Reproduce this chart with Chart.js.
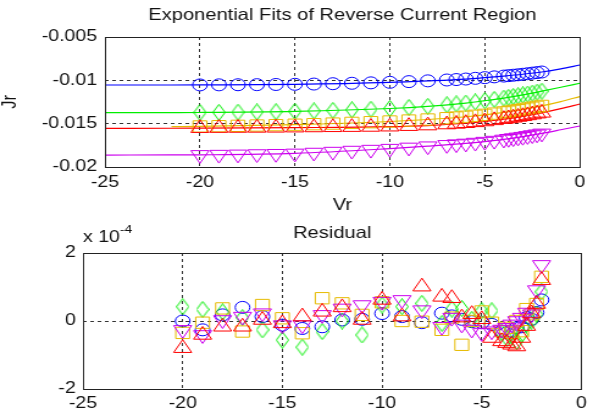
<!DOCTYPE html>
<html>
<head>
<meta charset="utf-8">
<script src="https://cdn.jsdelivr.net/npm/chart.js@4"></script>
<style>
  html, body { margin: 0; padding: 0; background: #fff; }
  #wrap { position: relative; width: 593px; height: 416px; overflow: hidden; }
  canvas { position: absolute; left: 0; top: 0; }
</style>
</head>
<body>
<div id="wrap">
  <canvas id="fitChart" width="486" height="416" style="width:593px;height:416px"></canvas>
  <canvas id="resChart" width="486" height="416" style="width:593px;height:416px"></canvas>
</div>
<script>
// reverse bias voltages of the measured points
const vr = [-20, -19, -18, -17, -16, -15, -14, -13, -12, -11, -10, -9, -8, -7, -6.5, -6, -5.5, -5, -4.5, -4, -3.75, -3.5, -3.25, -3, -2.75, -2.5, -2.25, -2];

// measured Jr
const jrBlue = [-0.01053, -0.01052, -0.01051, -0.01050, -0.01048, -0.01046, -0.01043, -0.01039, -0.01034, -0.01029, -0.01023, -0.01015, -0.01006, -0.00996, -0.00991, -0.00985, -0.00977, -0.00969, -0.00960, -0.00951, -0.00946, -0.00941, -0.00936, -0.00930, -0.00924, -0.00917, -0.00911, -0.00904];
const jrGreen = [-0.01371, -0.01369, -0.01367, -0.01365, -0.01362, -0.01358, -0.01353, -0.01347, -0.01340, -0.01333, -0.01325, -0.01313, -0.01300, -0.01282, -0.01272, -0.01262, -0.01249, -0.01235, -0.01220, -0.01205, -0.01196, -0.01187, -0.01178, -0.01168, -0.01158, -0.01147, -0.01136, -0.01125];
const jrYellow = [-0.01532, -0.01529, -0.01525, -0.01521, -0.01517, -0.01512, -0.01506, -0.01499, -0.01491, -0.01483, -0.01475, -0.01464, -0.01452, -0.01437, -0.01429, -0.01420, -0.01409, -0.01398, -0.01384, -0.01370, -0.01362, -0.01353, -0.01345, -0.01336, -0.01326, -0.01316, -0.01306, -0.01295];
const jrRed = [-0.01552, -0.01551, -0.01550, -0.01549, -0.01548, -0.01546, -0.01544, -0.01542, -0.01540, -0.01538, -0.01535, -0.01529, -0.01522, -0.01510, -0.01503, -0.01495, -0.01485, -0.01475, -0.01462, -0.01448, -0.01440, -0.01432, -0.01423, -0.01415, -0.01405, -0.01395, -0.01385, -0.01375];
const jrMagenta = [-0.01860, -0.01857, -0.01854, -0.01850, -0.01847, -0.01843, -0.01833, -0.01822, -0.01810, -0.01799, -0.01788, -0.01774, -0.01760, -0.01744, -0.01736, -0.01728, -0.01718, -0.01707, -0.01695, -0.01682, -0.01674, -0.01666, -0.01658, -0.01650, -0.01641, -0.01631, -0.01622, -0.01612];

// exponential fit curves
const fitVr = [-25, -21.5, -20, -15, -10, -8, -6, -5, -4, -3, -2, -1, 0];
const fitBlue = [-0.01054, -0.01054, -0.01053, -0.01046, -0.01023, -0.01006, -0.00985, -0.00969, -0.00951, -0.00930, -0.00904, -0.00868, -0.00823];
const fitGreen = [-0.01373, -0.01372, -0.01371, -0.01358, -0.01325, -0.01300, -0.01262, -0.01235, -0.01205, -0.01168, -0.01125, -0.01080, -0.01034];
const fitYellow = [null, -0.01535, -0.01532, -0.01512, -0.01475, -0.01452, -0.01420, -0.01398, -0.01370, -0.01336, -0.01295, -0.01245, -0.01188];
const fitRed = [-0.01554, -0.01553, -0.01552, -0.01546, -0.01535, -0.01522, -0.01495, -0.01475, -0.01448, -0.01415, -0.01375, -0.01327, -0.01273];
const fitMagenta = [-0.01862, -0.01861, -0.01860, -0.01843, -0.01788, -0.01760, -0.01728, -0.01707, -0.01682, -0.01650, -0.01612, -0.01570, -0.01527];

// residuals, in units of 1e-4
const resBlue = [0.00, -0.26, 0.18, 0.40, 0.13, -0.12, -0.22, -0.17, 0.03, 0.05, 0.22, 0.13, -0.05, 0.23, 0.15, 0.05, -0.02, -0.05, -0.10, -0.30, -0.35, -0.30, -0.20, -0.17, 0.10, 0.05, 0.25, 0.62];
const resGreen = [0.42, 0.34, 0.27, 0.10, -0.26, -0.56, -0.77, -0.31, 0.00, -0.41, 0.47, 0.42, 0.52, -0.07, 0.35, 0.37, 0.05, 0.30, 0.30, -0.35, -0.50, -0.45, -0.60, -0.40, -0.10, 0.00, 0.20, 0.86];
const resYellow = [-0.35, -0.05, 0.37, -0.31, 0.47, 0.08, -0.36, 0.67, 0.52, 0.18, 0.55, 0.00, -0.02, -0.26, 0.10, -0.70, 0.00, 0.28, -0.05, -0.30, -0.20, -0.35, 0.00, -0.30, 0.35, 0.20, 0.50, 1.30];
const resRed = [-0.80, -0.41, -0.17, -0.17, 0.03, -0.07, 0.13, 0.27, 0.40, 0.03, 0.62, 0.13, 1.01, 0.71, 0.67, 0.10, 0.20, 0.05, -0.50, -0.60, -0.65, -0.70, -0.75, -0.50, -0.15, 0.22, 0.50, 1.20];
const resMagenta = [-0.26, -0.41, 0.03, 0.13, 0.23, -0.12, -0.12, 0.18, 0.37, 0.47, 0.57, 0.62, 0.32, -0.17, 0.10, -0.10, -0.25, -0.35, -0.30, -0.25, -0.20, -0.10, 0.00, 0.10, 0.25, 0.20, 0.91, 1.65];

// canvas is drawn narrower and stretched by css, like the original figure
const SX = 593 / 486;
const FONT = "'Liberation Sans', Arial, sans-serif";

Chart.defaults.font.family = FONT;
Chart.defaults.font.size = 16;
Chart.defaults.color = "#111";

function pts(xs, ys) {
  return xs.map((x, i) => ({ x: x, y: ys[i] }));
}

// matlab's diamond is taller than wide, so draw it by hand
function diamond(color) {
  const c = document.createElement("canvas");
  c.width = 11;
  c.height = 17;
  const g = c.getContext("2d");
  g.strokeStyle = color;
  g.lineWidth = 1;
  g.beginPath();
  g.moveTo(5.5, 0.5);
  g.lineTo(10.5, 8.5);
  g.lineTo(5.5, 16.5);
  g.lineTo(0.5, 8.5);
  g.closePath();
  g.stroke();
  return c;
}

const series = [
  { name: "red", color: "#ff0000", style: "triangle", radius: 8.5, rot: 0, jr: jrRed, fit: fitRed, res: resRed },
  { name: "magenta", color: "#cc00ee", style: "triangle", radius: 8.5, rot: 180, jr: jrMagenta, fit: fitMagenta, res: resMagenta },
  { name: "yellow", color: "#e6bb00", style: "rect", radius: 8, rot: 0, jr: jrYellow, fit: fitYellow, res: resYellow },
  { name: "green", color: "#00ee00", style: diamond("#00ee00"), radius: 8, rot: 0, jr: jrGreen, fit: fitGreen, res: resGreen },
  { name: "blue", color: "#0000ff", style: "circle", radius: 6, rot: 0, jr: jrBlue, fit: fitBlue, res: resBlue },
];

function markerSet(s, data, order) {
  return {
    type: "scatter",
    label: s.name,
    data: data,
    order: order,
    showLine: false,
    pointStyle: s.style,
    pointRadius: s.radius,
    pointRotation: s.rot,
    pointBorderColor: s.color,
    pointBackgroundColor: "rgba(0,0,0,0)",
    pointBorderWidth: 1,
    pointHoverRadius: s.radius,
  };
}

// box round the axes, and the title centred over the axes
const frame = {
  id: "frame",
  afterDraw(chart, args, opts) {
    const a = chart.chartArea;
    const ctx = chart.ctx;
    ctx.save();
    ctx.strokeStyle = "#222";
    ctx.lineWidth = 1;
    ctx.strokeRect(Math.round(a.left) + 0.5, Math.round(a.top) + 0.5, Math.round(a.right - a.left), Math.round(a.bottom - a.top));
    if (opts.text) {
      ctx.fillStyle = "#111";
      ctx.font = "16.5px " + FONT;
      ctx.textAlign = "center";
      ctx.textBaseline = "middle";
      ctx.fillText(opts.text, (a.left + a.right) / 2, opts.y);
    }
    ctx.restore();
  }
};

const exponent = {
  id: "exponent",
  afterDraw(chart) {
    const ctx = chart.ctx;
    const x = chart.chartArea.left;
    ctx.save();
    ctx.fillStyle = "#111";
    ctx.textBaseline = "alphabetic";
    ctx.font = "16px " + FONT;
    ctx.fillText("x 10", x, 242);
    const w = ctx.measureText("x 10").width;
    ctx.font = "11.5px " + FONT;
    ctx.fillText("-4", x + w, 233);
    ctx.restore();
  }
};

function gridColor(min, max) {
  return (c) => (c.tick && (c.tick.value === min || c.tick.value === max)) ? "rgba(0,0,0,0)" : "#333";
}

// ---- top plot: Jr vs Vr with fits
const fitSets = [];
series.forEach((s, i) => fitSets.push(markerSet(s, pts(vr, s.jr), i)));
series.forEach((s, i) => fitSets.push({
  type: "line",
  label: s.name + " fit",
  data: pts(fitVr, s.fit),
  order: 10 + i,
  borderColor: s.color,
  borderWidth: 1.2,
  pointRadius: 0,
  cubicInterpolationMode: "monotone",
  fill: false,
}));

new Chart(document.getElementById("fitChart"), {
  type: "scatter",
  data: { datasets: fitSets },
  options: {
    responsive: false,
    animation: false,
    layout: { padding: { left: 0, right: 486 - 588 / SX, top: 37, bottom: 199 } },
    plugins: {
      legend: { display: false },
      tooltip: { enabled: false },
      frame: { text: "Exponential Fits of Reverse Current Region", y: 15 },
    },
    scales: {
      x: {
        type: "linear",
        min: -25,
        max: 0,
        ticks: { stepSize: 5, padding: 6.4, autoSkip: false, maxRotation: 0, callback: (v) => String(v) },
        grid: { color: gridColor(-25, 0), drawTicks: false, lineWidth: 1 },
        border: { display: false, dash: [3, 3] },
        title: { display: true, text: "Vr", font: { size: 16.5 }, padding: { top: 0, bottom: 1.9 } },
        afterFit: (scale) => { scale.height = 50; },
      },
      y: {
        type: "linear",
        min: -0.02,
        max: -0.005,
        ticks: { stepSize: 0.005, padding: 6.5, callback: (v) => String(Math.round(v * 1000) / 1000) },
        grid: { color: gridColor(-0.02, -0.005), drawTicks: false, lineWidth: 1 },
        border: { display: false, dash: [3, 3] },
        title: { display: true, text: "Jr", font: { size: 16.5, lineHeight: 1 }, padding: { top: 0.4, bottom: 0 } },
        afterFit: (scale) => { scale.width = 105 / SX; },
      },
    },
  },
  plugins: [frame],
});

// ---- bottom plot: residuals
const resSets = series.map((s, i) => markerSet(s, pts(vr, s.res), i));

new Chart(document.getElementById("resChart"), {
  type: "scatter",
  data: { datasets: resSets },
  options: {
    responsive: false,
    animation: false,
    layout: { padding: { left: 0, right: 486 - 588 / SX, top: 253, bottom: 0 } },
    plugins: {
      legend: { display: false },
      tooltip: { enabled: false },
      frame: { text: "Residual", y: 233 },
    },
    scales: {
      x: {
        type: "linear",
        min: -25,
        max: 0,
        ticks: { stepSize: 5, padding: 4.9, autoSkip: false, maxRotation: 0, callback: (v) => String(v) },
        grid: { color: gridColor(-25, 0), drawTicks: false, lineWidth: 1 },
        border: { display: false, dash: [3, 3] },
        afterFit: (scale) => { scale.height = 27; },
      },
      y: {
        type: "linear",
        min: -2,
        max: 2,
        ticks: { stepSize: 2, padding: 6, callback: (v) => String(v) },
        grid: { color: gridColor(-2, 2), drawTicks: false, lineWidth: 1 },
        border: { display: false, dash: [3, 3] },
        afterFit: (scale) => { scale.width = 83 / SX; },
      },
    },
  },
  plugins: [frame, exponent],
});
</script>
</body>
</html>
